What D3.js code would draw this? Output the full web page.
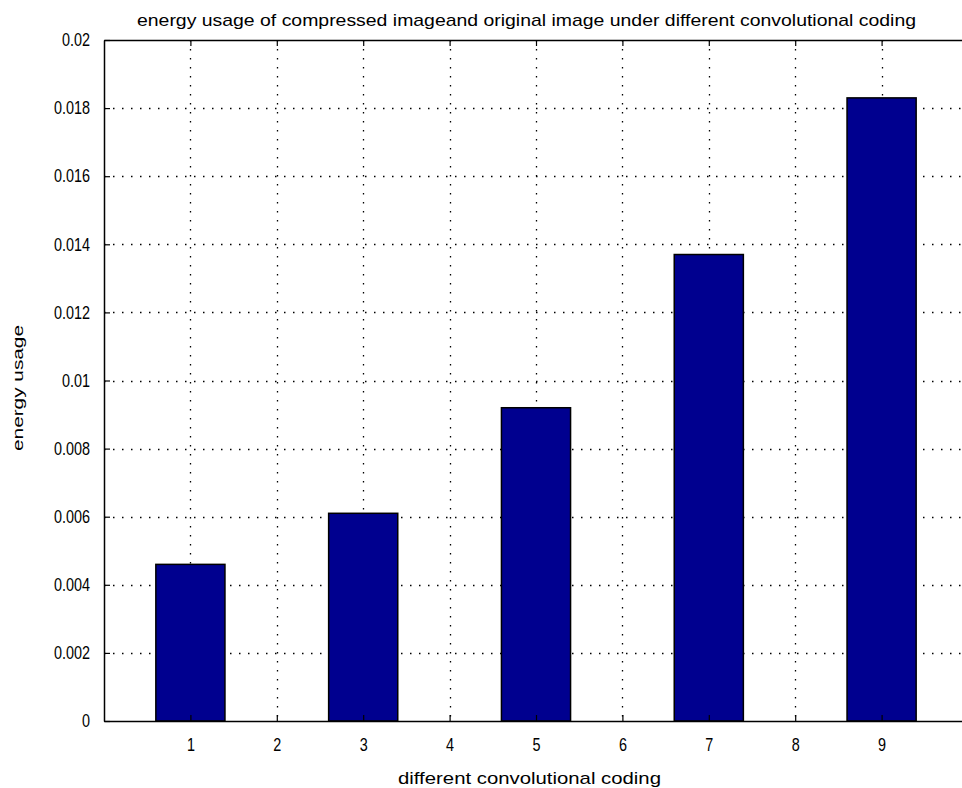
<!DOCTYPE html>
<html>
<head>
<meta charset="utf-8">
<script src="https://cdn.jsdelivr.net/npm/d3@7"></script>
<style>
  html, body { margin: 0; padding: 0; background: #fff; }
  svg { display: block; }
  text { font-family: "Liberation Sans Narrow", "Liberation Sans", Arial, sans-serif; fill: #000; }
</style>
</head>
<body>
<svg id="chart" width="962" height="788"></svg>
<script>
// Energy usage per convolutional code index
const codes = [1, 3, 5, 7, 9];
const energy = [0.0046, 0.0061, 0.0092, 0.0137, 0.0183];
const xTicks = [1, 2, 3, 4, 5, 6, 7, 8, 9];
const yTicks = [0, 0.002, 0.004, 0.006, 0.008, 0.01, 0.012, 0.014, 0.016, 0.018, 0.02];
const yTickLabels = ["0", "0.002", "0.004", "0.006", "0.008", "0.01", "0.012", "0.014", "0.016", "0.018", "0.02"];
const titleText = "energy usage of compressed imageand original image under different convolutional coding";
const xLabelText = "different convolutional coding";
const yLabelText = "energy usage";

const svg = d3.select("#chart");
const plotLeft = 104, plotTop = 40, plotBottom = 721;
const squeeze = 0.8; // horizontal condensing of the label glyphs

const x = d3.scaleLinear().domain([0, 10]).range([plotLeft, 968]);
const y = d3.scaleLinear().domain([0, 0.02]).range([plotBottom, plotTop]);
const barW = x(0.8) - x(0);

// dotted grid
const grid = svg.append("g").attr("stroke", "#000").attr("stroke-width", 1.3)
  .attr("stroke-dasharray", "1.5,7.5");
grid.selectAll("line.v").data(xTicks).join("line").attr("class", "v")
  .attr("x1", d => Math.round(x(d)) + 0.5).attr("x2", d => Math.round(x(d)) + 0.5)
  .attr("y1", plotTop).attr("y2", plotBottom);
grid.selectAll("line.h").data(yTicks.slice(1, -1)).join("line").attr("class", "h")
  .attr("y1", d => Math.round(y(d)) + 0.5).attr("y2", d => Math.round(y(d)) + 0.5)
  .attr("x1", plotLeft).attr("x2", 962);

// bars
svg.append("g").selectAll("rect").data(codes).join("rect")
  .attr("x", (d) => x(d) - barW / 2)
  .attr("width", barW)
  .attr("y", (d, i) => y(energy[i]))
  .attr("height", (d, i) => y(0) - y(energy[i]))
  .attr("fill", "#00008f")
  .attr("stroke", "#000")
  .attr("stroke-width", 1.5);

// axes: bottom, top and left with inward ticks
const xAxis = d3.axisBottom(x).tickValues(xTicks).tickSizeInner(-6).tickSizeOuter(0).tickPadding(17);
const gx = svg.append("g").attr("transform", `translate(0,${plotBottom})`).call(xAxis);

const topAxis = d3.axisTop(x).tickValues(xTicks).tickSizeInner(-6).tickSizeOuter(0).tickFormat("");
svg.append("g").attr("transform", `translate(0,${plotTop})`).call(topAxis);

const yAxis = d3.axisLeft(y).tickValues(yTicks).tickSizeInner(-6).tickSizeOuter(0).tickPadding(17.5)
  .tickFormat((d, i) => yTickLabels[i]);
const gy = svg.append("g").attr("transform", `translate(${plotLeft},0)`).call(yAxis);

svg.selectAll(".domain").attr("stroke", "#000").attr("stroke-width", 1.5);
svg.selectAll(".tick line").attr("stroke", "#000").attr("stroke-width", 1.2);
svg.selectAll(".tick text").attr("font-family", "Liberation Sans Narrow, Liberation Sans, Arial, sans-serif")
  .attr("font-size", 18).attr("fill", "#000");
gy.selectAll(".tick text").attr("transform", `scale(${squeeze},1)`);
gx.selectAll(".tick text").attr("transform", `scale(${squeeze},1)`);

// titles
svg.append("text").attr("x", 137).attr("y", 26).attr("font-size", 17)
  .attr("textLength", 779).attr("lengthAdjust", "spacingAndGlyphs").text(titleText);
svg.append("text").attr("x", 398).attr("y", 784).attr("font-size", 17)
  .attr("textLength", 263).attr("lengthAdjust", "spacingAndGlyphs").text(xLabelText);
svg.append("text").attr("transform", "translate(23,451) rotate(-90)").attr("font-size", 15)
  .attr("textLength", 126).attr("lengthAdjust", "spacingAndGlyphs").text(yLabelText);
</script>
</body>
</html>
